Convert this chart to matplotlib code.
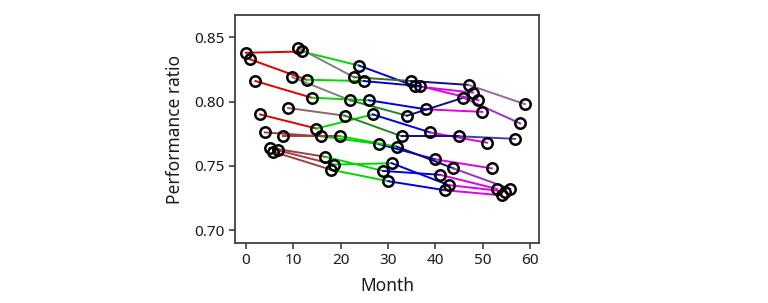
# Performance ratio of several systems over time, one chain of points per system

import matplotlib.pyplot as plt

plt.rcParams['font.family'] = ['Noto Sans', 'DejaVu Sans']

# months and performance ratio for each system (about one reading per year)
months = [
    [0, 11.8, 23.9, 35.7, 47.9],
    [0.8, 12.8, 24.9, 36.8, 49.1],
    [2, 13.9, 26, 38, 49.9],
    [3, 14.9, 26.8, 38.9, 50.9],
    [4, 15.8, 28, 40, 51.9],
    [5, 16.8, 29, 41, 53],
    [5.8, 17.9, 30.1, 42, 54],
    [6.8, 18.6, 30.8, 42.8, 54.7],
    [7.9, 19.9, 31.8, 43.8, 55.8],
    [8.9, 20.9, 32.9, 45, 56.8],
    [9.8, 22, 34, 45.9, 57.9],
    [11, 22.8, 34.9, 47, 58.9],
]
ratios = [
    [0.838, 0.839, 0.828, 0.812, 0.807],
    [0.833, 0.817, 0.816, 0.812, 0.801],
    [0.816, 0.803, 0.801, 0.794, 0.792],
    [0.790, 0.779, 0.790, 0.776, 0.768],
    [0.776, 0.773, 0.767, 0.755, 0.748],
    [0.764, 0.757, 0.746, 0.743, 0.732],
    [0.761, 0.747, 0.738, 0.731, 0.727],
    [0.762, 0.751, 0.752, 0.735, 0.730],
    [0.773, 0.773, 0.765, 0.748, 0.732],
    [0.795, 0.789, 0.773, 0.773, 0.771],
    [0.819, 0.801, 0.789, 0.803, 0.783],
    [0.842, 0.819, 0.816, 0.813, 0.798],
]

# segment colours for each chain
red, brown, graybrown, gray = '#e00000', '#a04040', '#8a6868', '#808080'
green, dkgreen, olive = '#00d800', '#208a20', '#3f6a20'
blue, navy = '#0000d8', '#101080'
magenta, purple, bluepurple, mauve = '#e000e0', '#9a30c8', '#4a3ab0', '#a060a8'
seg_colors = [
    [red, green, blue, magenta],
    [red, green, blue, magenta],
    [red, green, blue, magenta],
    [red, green, blue, magenta],
    [brown, green, blue, magenta],
    [brown, green, blue, magenta],
    [brown, green, blue, magenta],
    [brown, green, blue, magenta],
    [brown, green, navy, purple],
    [graybrown, dkgreen, navy, bluepurple],
    [gray, dkgreen, navy, purple],
    [gray, olive, navy, mauve],
]

fig = plt.figure(figsize=(7.68, 3.03), dpi=100)
ax = fig.add_axes([0.306, 0.198, 0.396, 0.752])

for mo, pr, cols in zip(months, ratios, seg_colors):
    for k in range(len(mo) - 1):
        ax.plot(mo[k:k + 2], pr[k:k + 2], color=cols[k], lw=1.4, zorder=2)

for mo, pr in zip(months, ratios):
    ax.plot(mo, pr, ls='none', marker='o', ms=7.5, mfc='none', mec='black',
            mew=1.8, zorder=3)

ax.set_xlim(-2.3, 61.9)
ax.set_ylim(0.6899, 0.8673)
ax.set_xticks([0, 10, 20, 30, 40, 50, 60])
ax.set_yticks([0.70, 0.75, 0.80, 0.85])
ax.set_yticklabels(['0.70', '0.75', '0.80', '0.85'])
ax.tick_params(labelsize=11, length=4.5, width=1.2, color='#404040', pad=3,
               labelcolor='#1a1a1a')
for sp in ax.spines.values():
    sp.set_color('#404040')
    sp.set_linewidth(1.3)

ax.set_xlabel('Month', fontsize=12.5, labelpad=6, color='#1a1a1a')
ax.set_ylabel('Performance ratio', fontsize=12.5, labelpad=7, color='#1a1a1a')

fig.savefig('out.png', dpi=100)
